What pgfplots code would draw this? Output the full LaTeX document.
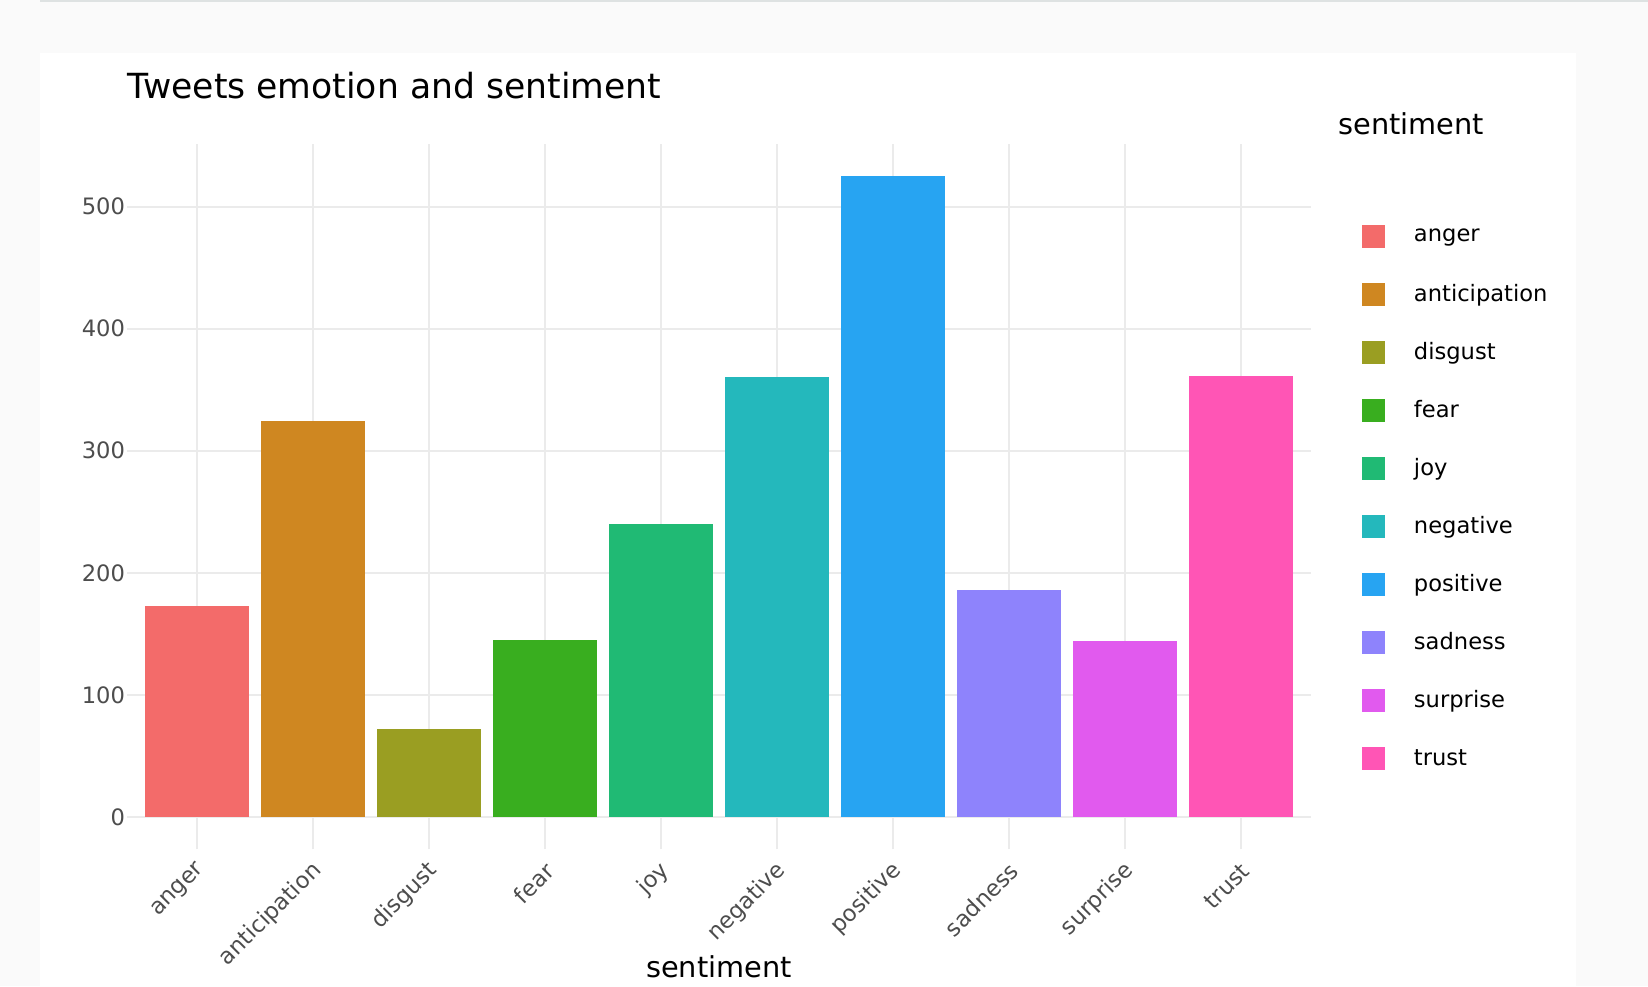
\documentclass[border=0pt]{standalone}
\usepackage{fontspec}
\setmainfont{DejaVu Sans}
\usepackage{pgfplots}
\pgfplotsset{compat=1.18}

\definecolor{pagebg}{HTML}{FAFAFA}
\definecolor{topline}{HTML}{DEE2E2}
\definecolor{gridc}{HTML}{EBEBEB}
\definecolor{tickc}{HTML}{4D4D4D}
\definecolor{cAnger}{RGB}{243,107,106}
\definecolor{cAnticipation}{RGB}{207,135,33}
\definecolor{cDisgust}{RGB}{154,158,34}
\definecolor{cFear}{RGB}{57,174,31}
\definecolor{cJoy}{RGB}{32,186,116}
\definecolor{cNegative}{RGB}{36,184,188}
\definecolor{cPositive}{RGB}{39,164,242}
\definecolor{cSadness}{RGB}{142,131,252}
\definecolor{cSurprise}{RGB}{225,90,238}
\definecolor{cTrust}{RGB}{255,85,181}

\begin{document}
\begin{tikzpicture}
% page background and white card
\fill[pagebg] (0,0) rectangle (824pt,493pt);
\fill[white] (20pt,0) rectangle (788pt,466.5pt);
\fill[topline] (20pt,492pt) rectangle (824pt,493pt);
\begin{axis}[
  at={(63.7pt,68.5pt)}, anchor=south west,
  scale only axis, width=591.6pt, height=352.5pt,
  clip=false,
  xmin=-0.6, xmax=9.6, ymin=-26.25, ymax=551.25,
  xtick={0,...,9},
  xticklabels={anger,anticipation,disgust,fear,joy,negative,positive,sadness,surprise,trust},
  ytick={0,100,...,500},
  xmajorgrids, ymajorgrids,
  grid style={line width=1pt, color=gridc},
  axis line style={draw=none},
  major tick length=0pt,
  tick style={draw=none},
  /pgf/number format/assume math mode=true,
  ticklabel style={font=\fontsize{11.3}{13}\selectfont, text=tickc},
  yticklabel style={anchor=east, inner sep=0pt, xshift=-1pt},
  xticklabel style={inner sep=0pt, anchor=east, xshift=2.5pt, yshift=-9pt, rotate=45},
  title={Tweets emotion and sentiment},
  title style={at={(axis description cs:0,1)}, anchor=west, inner sep=0pt,
    yshift=23pt, font=\fontsize{17.3}{20}\selectfont},
  xlabel={sentiment},
  xlabel style={at={(axis description cs:0.5,0)}, anchor=center, inner sep=0pt,
    yshift=-59pt, font=\fontsize{14.4}{17}\selectfont},
  every axis plot/.append style={ybar, bar width=0.9, bar shift=0pt, draw=none},
  legend image code/.code={\fill[#1] (0pt,-5.75pt) rectangle (11.5pt,5.75pt);},
  legend cell align=left,
  legend style={at={(1.0434,0.885)}, anchor=north west, draw=none, fill=none,
    inner sep=0pt, outer sep=0pt, row sep=17.5pt, column sep=14.5pt,
    font=\fontsize{11.3}{13}\selectfont,
    nodes={inner sep=0pt}},
]
\addplot[fill=cAnger] coordinates {(0,173)};
\addplot[fill=cAnticipation] coordinates {(1,324)};
\addplot[fill=cDisgust] coordinates {(2,72)};
\addplot[fill=cFear] coordinates {(3,145)};
\addplot[fill=cJoy] coordinates {(4,240)};
\addplot[fill=cNegative] coordinates {(5,360)};
\addplot[fill=cPositive] coordinates {(6,525)};
\addplot[fill=cSadness] coordinates {(7,186)};
\addplot[fill=cSurprise] coordinates {(8,144)};
\addplot[fill=cTrust] coordinates {(9,361)};
\legend{anger,anticipation,disgust,fear,joy,negative,positive,sadness,surprise,trust}
\node[anchor=west, inner sep=0pt, font=\fontsize{14.4}{17}\selectfont]
  at (axis description cs:1.0232,1.0284) {sentiment};
\end{axis}
\pgfresetboundingbox
\useasboundingbox (0,0) rectangle (824pt,493pt);
\end{tikzpicture}
\end{document}
